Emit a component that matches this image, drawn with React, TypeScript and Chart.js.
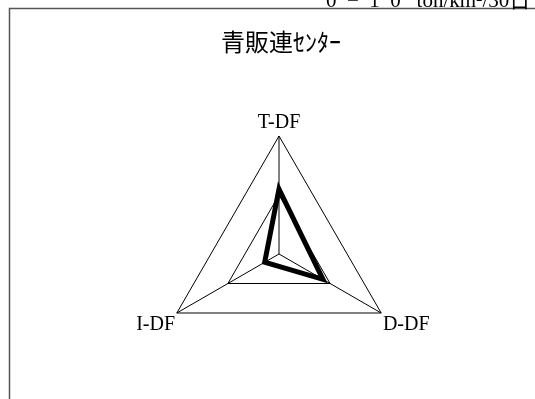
import React, { useEffect, useRef } from "react";
import { Chart, registerables } from "chart.js";

Chart.register(...registerables);

const axisLabels = ["T-DF", "D-DF", "I-DF"];
const seriesValues = [5.5, 4.3, 1.4];
const scaleTicks = [0, 5, 10];
const titleText = "青販連ｾﾝﾀｰ";
const unitText = "0  −  1  0   ton/km²/30日";

const decorPlugin = {
  id: "decor",
  beforeDraw(chart: any) {
    const ctx = chart.ctx;
    ctx.save();
    ctx.fillStyle = "#ffffff";
    ctx.fillRect(0, 0, chart.width, chart.height);
    ctx.strokeStyle = "#555555";
    ctx.lineWidth = 1.5;
    ctx.beginPath();
    ctx.moveTo(9.5, chart.height + 5);
    ctx.lineTo(9.5, 8.5);
    ctx.lineTo(chart.width + 5, 8.5);
    ctx.stroke();
    ctx.restore();
  },
  afterDraw(chart: any) {
    const ctx = chart.ctx;
    ctx.save();
    ctx.fillStyle = "#000000";
    ctx.textBaseline = "alphabetic";
    ctx.textAlign = "left";
    ctx.font = "21px 'Liberation Serif', 'Noto Sans CJK JP', serif";
    ctx.fillText(unitText, 326, 6.5);
    ctx.textAlign = "center";
    ctx.textBaseline = "middle";
    ctx.font = "24px 'Noto Sans CJK JP', sans-serif";
    ctx.fillText(titleText, 281, 42);
    ctx.restore();
  },
};

export default function App() {
  const ref = useRef<HTMLCanvasElement | null>(null);
  useEffect(() => {
    if (!ref.current) return;
    const chart = new Chart(ref.current, {
      type: "radar",
      data: {
        labels: axisLabels,
        datasets: [
          {
            data: seriesValues,
            borderColor: "#000000",
            borderWidth: 5,
            borderJoinStyle: "miter",
            pointRadius: 0,
            fill: false,
          },
        ],
      },
      options: {
        responsive: false,
        animation: false,
        layout: { padding: { left: 89, right: 66, top: 100, bottom: 14 } },
        plugins: { legend: { display: false }, tooltip: { enabled: false } },
        scales: {
          r: {
            min: scaleTicks[0],
            max: scaleTicks[scaleTicks.length - 1],
            ticks: { display: false, stepSize: scaleTicks[1] - scaleTicks[0] },
            grid: { color: "#000000", lineWidth: 1 },
            angleLines: { color: "#000000", lineWidth: 1 },
            pointLabels: {
              color: "#000000",
              padding: 2,
              font: { family: "'Liberation Serif', serif", size: 20, lineHeight: 1.1 },
            },
          },
        },
      },
      plugins: [decorPlugin],
    });
    return () => chart.destroy();
  }, []);
  return (
    <div style={{ position: "absolute", left: 0, top: 0, width: 535, height: 399 }}>
      <canvas ref={ref} width={535} height={399} style={{ display: "block" }} />
    </div>
  );
}
